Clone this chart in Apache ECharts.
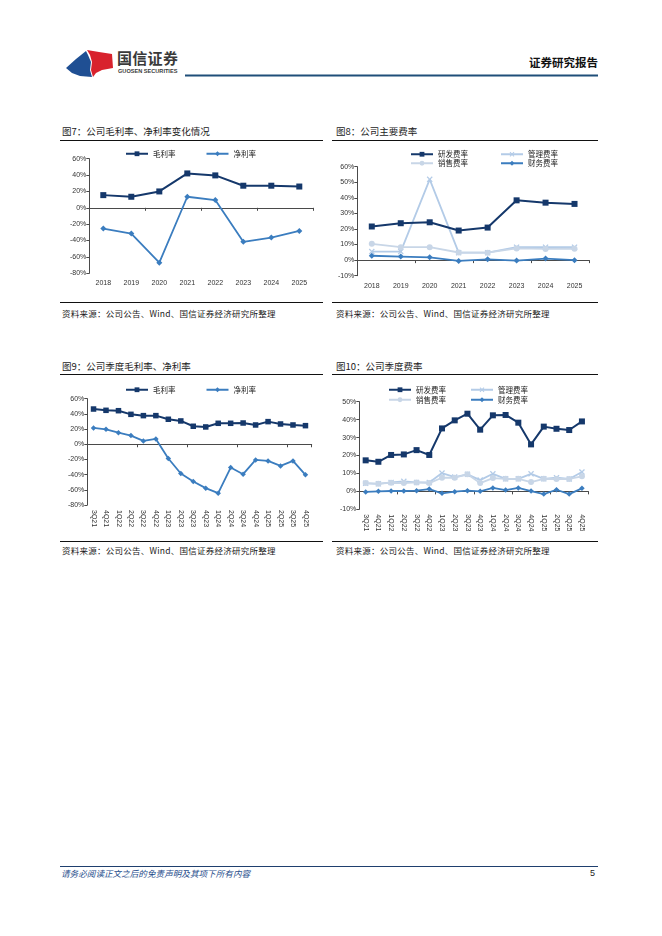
<!DOCTYPE html>
<html>
<head>
<meta charset="utf-8">
<script src="https://cdn.jsdelivr.net/npm/echarts@6/dist/echarts.min.js"></script>
<style>
html,body{margin:0;padding:0;background:#fff;}
#page{position:relative;width:662px;height:936px;background:#fff;overflow:hidden;font-family:"Liberation Sans","Noto Sans CJK SC",sans-serif;}
.abs{position:absolute;}
.title{font-size:9.5px;line-height:12px;color:#1a1a1a;font-family:"Noto Sans CJK SC","Liberation Sans",sans-serif;white-space:nowrap;}
.src{font-size:8.5px;line-height:10px;letter-spacing:0.25px;color:#1a1a1a;font-family:"Noto Sans CJK SC","Liberation Sans",sans-serif;white-space:nowrap;}
.hline{position:absolute;height:0;border-top:1.2px solid #111;}
.chart{position:absolute;}
</style>
</head>
<body>
<div id="page">
  <!-- header logo -->
  <svg class="abs" style="left:0;top:0" width="662" height="90">
    <path d="M66,68 L76,59 L86,51 L88,55 L91,62 L90,70 L92,77 L80,76 L72,73 Z" fill="#1f4f93"/>
    <path d="M87,50 L99,52 L112,54 L113,68 L102,70 L96,73 L93,77 L91,70 L92,62 L90,55 Z" fill="#d8222d"/>
    <line x1="185" y1="75.5" x2="598" y2="75.5" stroke="#1f4e79" stroke-width="2"/>
  </svg>
  <div class="abs" style="left:117px;top:49px;font-size:15px;line-height:18px;font-weight:bold;color:#3a3a3a;font-family:'Noto Sans CJK SC',sans-serif;letter-spacing:0.3px;">国信证券</div>
  <div class="abs" style="left:118px;top:68px;font-size:5.6px;line-height:7px;font-weight:bold;color:#3a3a3a;font-family:'Liberation Sans',sans-serif;white-space:nowrap;">GUOSEN SECURITIES</div>
  <div class="abs" style="left:520px;width:78px;text-align:right;top:55px;font-size:11.5px;line-height:14px;font-weight:bold;color:#111;font-family:'Noto Sans CJK SC',sans-serif;">证券研究报告</div>

  <!-- chart titles and rules -->
  <div class="abs title" style="left:62px;top:124.5px;">图7：公司毛利率、净利率变化情况</div>
  <div class="abs title" style="left:336px;top:124.5px;">图8：公司主要费率</div>
  <div class="hline" style="left:60px;top:140px;width:263px;"></div>
  <div class="hline" style="left:332px;top:140px;width:266px;"></div>
  <div class="hline" style="left:60px;top:302px;width:263px;"></div>
  <div class="hline" style="left:332px;top:302px;width:266px;"></div>
  <div class="abs src" style="left:62px;top:307.5px;">资料来源：公司公告、Wind、国信证券经济研究所整理</div>
  <div class="abs src" style="left:336px;top:307.5px;">资料来源：公司公告、Wind、国信证券经济研究所整理</div>

  <div class="abs title" style="left:62px;top:359.5px;">图9：公司季度毛利率、净利率</div>
  <div class="abs title" style="left:336px;top:359.5px;">图10：公司季度费率</div>
  <div class="hline" style="left:60px;top:374px;width:263px;"></div>
  <div class="hline" style="left:332px;top:374px;width:266px;"></div>
  <div class="hline" style="left:60px;top:541px;width:263px;"></div>
  <div class="hline" style="left:332px;top:541px;width:266px;"></div>
  <div class="abs src" style="left:62px;top:545px;">资料来源：公司公告、Wind、国信证券经济研究所整理</div>
  <div class="abs src" style="left:336px;top:545px;">资料来源：公司公告、Wind、国信证券经济研究所整理</div>

  <div id="c7" class="chart" style="left:60px;top:141px;width:265px;height:160px;"></div>
  <div id="c8" class="chart" style="left:330px;top:141px;width:265px;height:160px;"></div>
  <div id="c9" class="chart" style="left:60px;top:375px;width:265px;height:165px;"></div>
  <div id="c10" class="chart" style="left:330px;top:375px;width:265px;height:165px;"></div>

  <!-- footer -->
  <div class="abs" style="left:60px;top:865.5px;width:538px;height:0;border-top:1px solid #1f3f6e;"></div>
  <div class="abs" style="left:61px;top:867px;font-size:8.6px;line-height:12px;font-style:italic;color:#1f4e8c;font-family:'Noto Sans CJK SC',sans-serif;">请务必阅读正文之后的免责声明及其项下所有内容</div>
  <div class="abs" style="left:590px;top:867px;font-size:9px;line-height:12px;color:#222;">5</div>
</div>
<script>
// ---------- data ----------
var years = ['2018','2019','2020','2021','2022','2023','2024','2025'];
var grossYear = [15.5, 13.5, 20, 42, 39.6, 27, 27, 26];
var netYear = [-25.3, -31.4, -67, 13.5, 9.4, -41.6, -36.3, -28.2];

var rdYear = [21.6, 23.7, 24.3, 19, 20.9, 38.4, 36.9, 36.1];
var adminYear = [5.5, 5.5, 51.9, 4.8, 4.8, 8.3, 8.3, 8.3];
var salesYear = [10.5, 8.3, 8.3, 4.9, 4.8, 7.5, 7.2, 7.3];
var finYear = [2.8, 2.3, 1.8, -0.5, 0.5, -0.3, 1.0, 0];

var quarters = ['3Q21','4Q21','1Q22','2Q22','3Q22','4Q22','1Q23','2Q23','3Q23','4Q23','1Q24','2Q24','3Q24','4Q24','1Q25','2Q25','3Q25','4Q25'];
var grossQ = [46.4, 44.7, 44.2, 39.4, 37.7, 37.7, 32.9, 30.7, 23.7, 22.8, 27.6, 27.6, 28, 25.4, 29.8, 26.7, 25.4, 24.5];
var netQ = [21.5, 19.7, 15.3, 11.4, 4.4, 7, -18.8, -38.5, -49, -57.8, -64.4, -30.7, -39.4, -20.6, -21.9, -28.5, -21.9, -40.3];

var rdQ = [17.3, 16.5, 20.3, 20.6, 23, 20.3, 35.1, 39.6, 43.3, 34.4, 42.4, 42.6, 38.3, 26.2, 36.1, 34.9, 34.2, 39];
var adminQ = [4.5, 4.2, 5, 5.6, 5, 5, 10.2, 8, 9.5, 6.3, 9.8, 7, 7, 9.8, 7, 7.6, 6.9, 10.8];
var salesQ = [4.6, 4.3, 4.8, 4.6, 5, 4.6, 7.6, 7.6, 9.5, 4.6, 7.4, 7, 7, 5.2, 7, 6.9, 6.9, 8.4];
var finQ = [-0.3, 0, 0.2, 0.2, 0.4, 1.3, -1.1, -0.2, 0.4, 0, 1.9, 0.7, 1.9, 0.2, -1.5, 0.9, -1.5, 1.7];

// ---------- styles ----------
var C_DARK = '#15386b', C_MID = '#3b7dbf', C_ADMIN = '#b3cbe7', C_SALES = '#c8d6e7';
var AX = '#4a4a4a';
var FONT = 'Liberation Sans';
var XSYM = 'path://M0,1.5L1.5,0L5,3.5L8.5,0L10,1.5L6.5,5L10,8.5L8.5,10L5,6.5L1.5,10L0,8.5L3.5,5Z';

function xAxes(cats, rotate, margin) {
  return [
    {type:'category', data:cats, position:'bottom', boundaryGap:true,
     axisLine:{show:false, onZero:false}, axisTick:{show:false},
     axisLabel:{fontSize:7, color:'#333', fontFamily:FONT, margin:margin, rotate:rotate, interval:0}},
    {type:'category', data:cats, position:'top', boundaryGap:true,
     axisLine:{show:true, onZero:true, lineStyle:{color:AX, width:1}},
     axisTick:{show:true, inside:true, length:3, lineStyle:{color:AX}},
     axisLabel:{show:false}}
  ];
}
function yAxis(min, max, step) {
  return {type:'value', min:min, max:max, interval:step,
    axisLine:{show:true, lineStyle:{color:AX, width:1}},
    axisTick:{show:true, length:3, lineStyle:{color:AX}},
    splitLine:{show:false},
    axisLabel:{fontSize:7, color:'#333', fontFamily:FONT, margin:3, formatter:'{value}%'}};
}
function legend(names, left, top, gap) {
  return {data:names, left:left, top:top, itemWidth:22, itemHeight:6, itemGap:gap, padding:0,
    textStyle:{fontSize:7.5, color:'#222', fontFamily:'Noto Sans CJK SC'}};
}
function line(name, data, color, symbol, size, width, z) {
  return {name:name, type:'line', data:data, xAxisIndex:0, symbol:symbol, symbolSize:size,
    showSymbol:true, z:z||2, animation:false,
    lineStyle:{color:color, width:width}, itemStyle:{color:color}};
}

// ---------- chart 7 ----------
echarts.init(document.getElementById('c7'), null, {renderer:'canvas'}).setOption({
  animation:false,
  grid:{left:29.3, top:17.7, width:224, height:114.6, containLabel:false},
  legend:legend(['毛利率','净利率'], 65, 9, 30),
  xAxis:xAxes(years, 0, 6),
  yAxis:yAxis(-80, 60, 20),
  series:[
    line('毛利率', grossYear, C_DARK, 'rect', 6, 2, 3),
    line('净利率', netYear, C_MID, 'diamond', 6, 1.8, 2)
  ]
});

// ---------- chart 8 ----------
echarts.init(document.getElementById('c8')).setOption({
  animation:false,
  grid:{left:27.3, top:25.7, width:231.7, height:109},
  legend:[legend(['研发费率','管理费率'], 80, 9.5, 32), legend(['销售费率','财务费率'], 80, 18.5, 32)],
  xAxis:xAxes(years, 0, 7),
  yAxis:yAxis(-10, 60, 10),
  series:[
    line('管理费率', adminYear, C_ADMIN, XSYM, 6, 1.8, 1),
    line('销售费率', salesYear, C_SALES, 'circle', 6, 1.8, 1),
    line('财务费率', finYear, C_MID, 'diamond', 6, 1.8, 2),
    line('研发费率', rdYear, C_DARK, 'rect', 6, 2, 3)
  ]
});

// ---------- chart 9 ----------
echarts.init(document.getElementById('c9')).setOption({
  animation:false,
  grid:{left:27.3, top:23.7, width:224.4, height:106.3},
  legend:legend(['毛利率','净利率'], 65, 11, 30),
  xAxis:xAxes(quarters, -90, 5),
  yAxis:yAxis(-80, 60, 20),
  series:[
    line('毛利率', grossQ, C_DARK, 'rect', 5.5, 2, 3),
    line('净利率', netQ, C_MID, 'diamond', 5.5, 1.8, 2)
  ]
});

// ---------- chart 10 ----------
echarts.init(document.getElementById('c10')).setOption({
  animation:false,
  grid:{left:29.3, top:26.7, width:229, height:107.6},
  legend:[legend(['研发费率','管理费率'], 58, 11, 24), legend(['销售费率','财务费率'], 58, 21, 24)],
  xAxis:xAxes(quarters, -90, 5),
  yAxis:yAxis(-10, 50, 10),
  series:[
    line('管理费率', adminQ, C_ADMIN, XSYM, 6, 1.8, 1),
    line('销售费率', salesQ, C_SALES, 'circle', 6, 1.8, 1),
    line('财务费率', finQ, C_MID, 'diamond', 5.5, 1.8, 2),
    line('研发费率', rdQ, C_DARK, 'rect', 6, 2, 3)
  ]
});
</script>
</body>
</html>
